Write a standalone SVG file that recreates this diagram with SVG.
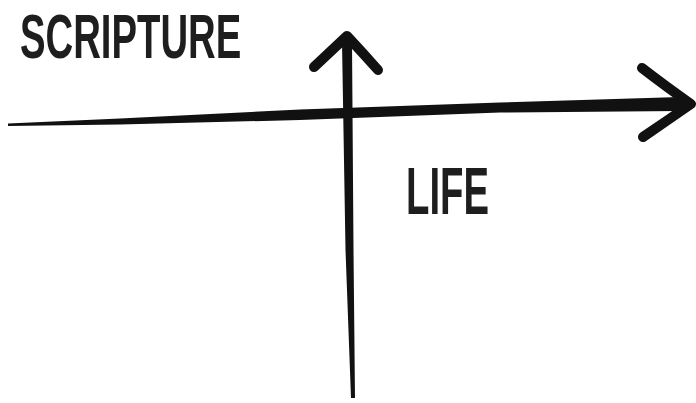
<svg xmlns="http://www.w3.org/2000/svg" width="696" height="403" viewBox="0 0 696 403">
<style>
.lbl{font-family:"Liberation Sans","DejaVu Sans",sans-serif;font-weight:bold;fill:#1e1e1e;}
.stroke{fill:none;stroke:#111;stroke-linecap:round;stroke-linejoin:round;}
.ink{fill:#111;}
</style>
<rect width="696" height="403" fill="#fff"/>
<g id="axes">
  <polygon class="ink" points="8,123.5 120,118.5 300,109.5 500,102.5 680,97 688,104 680,111 500,112.5 300,120 120,124.5 8,126"/>
  <path class="stroke" d="M642,68 Q668,88 691,104 Q668,120 643,137" stroke-width="10"/>
  <polygon class="ink" points="342,42 352,42 353.5,250 355,398 351,398 345.5,250"/>
  <path class="stroke" d="M314,67 Q332,50 347,36 Q362,52 378,70" stroke-width="10"/>
</g>
<g id="scripture"><text class="lbl" font-size="63" transform="translate(20,58) scale(0.608,1)" x="0" y="0">SCRIPTURE</text></g>
<g id="life"><text class="lbl" font-size="66" transform="translate(406,214) scale(0.58,1)" x="0" y="0">LIFE</text></g>
</svg>
